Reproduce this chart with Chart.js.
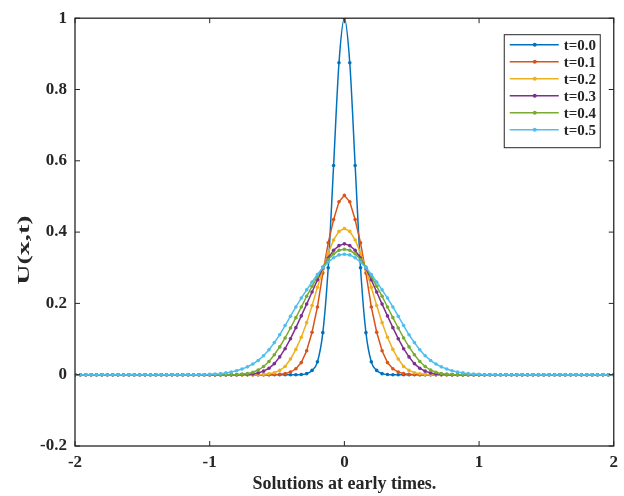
<!DOCTYPE html>
<html>
<head>
<meta charset="utf-8">
<title>Solutions at early times</title>
<script src="https://cdn.jsdelivr.net/npm/chart.js@4.4.1/dist/chart.umd.min.js"></script>
<style>
    html, body { margin: 0; padding: 0; background: #fff; }
    #u_plot_container { position: relative; width: 624px; height: 496px; }
</style>
</head>
<body>
<div id="u_plot_container"><canvas id="u_plot"></canvas></div>
<script>
// grid points x = -2 : 0.04 : 2
const xs = [
    -2, -1.96, -1.92, -1.88, -1.84, -1.8, -1.76, -1.72, -1.68, -1.64,
    -1.6, -1.56, -1.52, -1.48, -1.44, -1.4, -1.36, -1.32, -1.28, -1.24,
    -1.2, -1.16, -1.12, -1.08, -1.04, -1, -0.96, -0.92, -0.88, -0.84,
    -0.8, -0.76, -0.72, -0.68, -0.64, -0.6, -0.56, -0.52, -0.48, -0.44,
    -0.4, -0.36, -0.32, -0.28, -0.24, -0.2, -0.16, -0.12, -0.08, -0.04,
    0, 0.04, 0.08, 0.12, 0.16, 0.2, 0.24, 0.28, 0.32, 0.36,
    0.4, 0.44, 0.48, 0.52, 0.56, 0.6, 0.64, 0.68, 0.72, 0.76,
    0.8, 0.84, 0.88, 0.92, 0.96, 1, 1.04, 1.08, 1.12, 1.16,
    1.2, 1.24, 1.28, 1.32, 1.36, 1.4, 1.44, 1.48, 1.52, 1.56,
    1.6, 1.64, 1.68, 1.72, 1.76, 1.8, 1.84, 1.88, 1.92, 1.96,
    2
];

// U(x,t)
const u_t00 = [
    0, 0, 0, 0, 0, 0, 0, 0, 0, 0,
    0, 0, 0, 0, 0, 0, 0, 0, 0, 0,
    0, 0, 0, 0, 0, 0, 0, 0, 0, 0,
    0, 0, 0, 0, 0, 0, 0, 0, 0, 0,
    0, 0, 0.0005, 0.003, 0.012, 0.036, 0.118, 0.30, 0.587, 0.875,
    1, 0.875, 0.587, 0.30, 0.118, 0.036, 0.012, 0.003, 0.0005, 0,
    0, 0, 0, 0, 0, 0, 0, 0, 0, 0,
    0, 0, 0, 0, 0, 0, 0, 0, 0, 0,
    0, 0, 0, 0, 0, 0, 0, 0, 0, 0,
    0, 0, 0, 0, 0, 0, 0, 0, 0, 0,
    0
];
const u_t01 = [
    0, 0, 0, 0, 0, 0, 0, 0, 0, 0,
    0, 0, 0, 0, 0, 0, 0, 0, 0, 0,
    0, 0, 0, 0, 0, 0, 0, 0, 0, 0,
    0, 0, 0, 0, 0, 0, 0, 0.0004, 0.001, 0.003,
    0.0075, 0.0166, 0.034, 0.067, 0.119, 0.19, 0.285, 0.37, 0.435, 0.485,
    0.503, 0.485, 0.435, 0.37, 0.285, 0.19, 0.119, 0.067, 0.034, 0.0166,
    0.0075, 0.003, 0.001, 0.0004, 0, 0, 0, 0, 0, 0,
    0, 0, 0, 0, 0, 0, 0, 0, 0, 0,
    0, 0, 0, 0, 0, 0, 0, 0, 0, 0,
    0, 0, 0, 0, 0, 0, 0, 0, 0, 0,
    0
];
const u_t02 = [
    0, 0, 0, 0, 0, 0, 0, 0, 0, 0,
    0, 0, 0, 0, 0, 0, 0, 0, 0, 0,
    0, 0, 0, 0, 0, 0, 0, 0, 0, 0,
    0, 0, 0, 0, 0.0004, 0.001, 0.0025, 0.0056, 0.012, 0.023,
    0.044, 0.071, 0.105, 0.146, 0.194, 0.245, 0.295, 0.341, 0.378, 0.402,
    0.41, 0.402, 0.378, 0.341, 0.295, 0.245, 0.194, 0.146, 0.105, 0.071,
    0.044, 0.023, 0.012, 0.0056, 0.0025, 0.001, 0.0004, 0, 0, 0,
    0, 0, 0, 0, 0, 0, 0, 0, 0, 0,
    0, 0, 0, 0, 0, 0, 0, 0, 0, 0,
    0, 0, 0, 0, 0, 0, 0, 0, 0, 0,
    0
];
const u_t03 = [
    0, 0, 0, 0, 0, 0, 0, 0, 0, 0,
    0, 0, 0, 0, 0, 0, 0, 0, 0, 0,
    0, 0, 0, 0, 0, 0, 0, 0, 0, 0,
    0, 0.0004, 0.001, 0.0022, 0.005, 0.010, 0.018, 0.031, 0.050, 0.073,
    0.101, 0.132, 0.165, 0.198, 0.232, 0.266, 0.299, 0.327, 0.349, 0.362,
    0.367, 0.362, 0.349, 0.327, 0.299, 0.266, 0.232, 0.198, 0.165, 0.132,
    0.101, 0.073, 0.050, 0.031, 0.018, 0.010, 0.005, 0.0022, 0.001, 0.0004,
    0, 0, 0, 0, 0, 0, 0, 0, 0, 0,
    0, 0, 0, 0, 0, 0, 0, 0, 0, 0,
    0, 0, 0, 0, 0, 0, 0, 0, 0, 0,
    0
];
const u_t04 = [
    0, 0, 0, 0, 0, 0, 0, 0, 0, 0,
    0, 0, 0, 0, 0, 0, 0, 0, 0, 0,
    0, 0, 0, 0, 0, 0, 0, 0, 0, 0.0002,
    0.0006, 0.0015, 0.003, 0.007, 0.013, 0.023, 0.037, 0.056, 0.078, 0.103,
    0.131, 0.160, 0.190, 0.220, 0.248, 0.276, 0.302, 0.323, 0.339, 0.349,
    0.352, 0.349, 0.339, 0.323, 0.302, 0.276, 0.248, 0.220, 0.190, 0.160,
    0.131, 0.103, 0.078, 0.056, 0.037, 0.023, 0.013, 0.007, 0.003, 0.0015,
    0.0006, 0.0002, 0, 0, 0, 0, 0, 0, 0, 0,
    0, 0, 0, 0, 0, 0, 0, 0, 0, 0,
    0, 0, 0, 0, 0, 0, 0, 0, 0, 0,
    0
];
const u_t05 = [
    0, 0, 0, 0, 0, 0, 0, 0, 0, 0,
    0, 0, 0, 0, 0, 0, 0, 0, 0, 0,
    0, 0, 0, 0, 0.0005, 0.001, 0.002, 0.003, 0.005, 0.0075,
    0.011, 0.016, 0.022, 0.030, 0.040, 0.053, 0.07, 0.09, 0.112, 0.138,
    0.164, 0.19, 0.215, 0.238, 0.26, 0.281, 0.300, 0.316, 0.328, 0.336,
    0.338, 0.336, 0.328, 0.316, 0.300, 0.281, 0.26, 0.238, 0.215, 0.19,
    0.164, 0.138, 0.112, 0.09, 0.07, 0.053, 0.040, 0.030, 0.022, 0.016,
    0.011, 0.0075, 0.005, 0.003, 0.002, 0.001, 0.0005, 0, 0, 0,
    0, 0, 0, 0, 0, 0, 0, 0, 0, 0,
    0, 0, 0, 0, 0, 0, 0, 0, 0, 0,
    0
];

const seriesLabels = ["t=0.0", "t=0.1", "t=0.2", "t=0.3", "t=0.4", "t=0.5"];
const seriesValues = [u_t00, u_t01, u_t02, u_t03, u_t04, u_t05];
// matlab default line colors
const seriesColors = ["#0072BD", "#D95319", "#EDB120", "#7E2F8E", "#77AC30", "#4DBEEE"];

const xTickValues = [-2, -1, 0, 1, 2];
const yTickLabels = ["-0.2", "0", "0.2", "0.4", "0.6", "0.8", "1"];
const xTitle = "Solutions at early times.";
const yTitle = "U(x,t)";

window.font_family = "'Liberation Serif', 'Times New Roman', serif";
window.text_color = "#262626";

function createData() {
    const datasets = [];
    for (let i = 0; i < seriesValues.length; i++) {
        const pts = [];
        for (let j = 0; j < xs.length; j++) pts.push({ x: xs[j], y: seriesValues[i][j] });
        datasets.push({
            label: seriesLabels[i],
            data: pts,
            borderColor: seriesColors[i],
            backgroundColor: seriesColors[i],
            borderWidth: 1.5,
            pointRadius: 1.8,
            pointBorderWidth: 0,
            pointBackgroundColor: seriesColors[i],
            showLine: true,
            tension: 0,
            // the t=0 profile is smooth and narrow, the grid is too coarse for straight pieces
            cubicInterpolationMode: i == 0 ? "monotone" : "default",
            order: seriesValues.length - i, // later times drawn on top, like matlab
        });
    }
    return { datasets: datasets };
}

// box, inward ticks, legend and the ylabel, drawn the matlab way
const matlabAxes = {
    id: "matlabAxes",
    afterDraw(chart) {
        const ctx = chart.ctx;
        const area = chart.chartArea;
        const sx = chart.scales.x, sy = chart.scales.y;
        const tick = 5;

        ctx.save();
        ctx.strokeStyle = window.text_color;
        ctx.lineWidth = 1.3;
        ctx.strokeRect(area.left, area.top, area.right - area.left, area.bottom - area.top);

        ctx.beginPath();
        sx.ticks.forEach(t => {
            const px = sx.getPixelForValue(t.value);
            ctx.moveTo(px, area.bottom); ctx.lineTo(px, area.bottom - tick);
            ctx.moveTo(px, area.top); ctx.lineTo(px, area.top + tick);
        });
        sy.ticks.forEach(t => {
            const py = sy.getPixelForValue(t.value);
            ctx.moveTo(area.left, py); ctx.lineTo(area.left + tick, py);
            ctx.moveTo(area.right, py); ctx.lineTo(area.right - tick, py);
        });
        ctx.lineWidth = 1;
        ctx.stroke();

        // legend box in the upper right corner
        const boxW = 96, boxH = 113;
        const bx = area.right - 14 - boxW, by = area.top + 16;
        ctx.fillStyle = "#fff";
        ctx.fillRect(bx, by, boxW, boxH);
        ctx.strokeStyle = window.text_color;
        ctx.lineWidth = 1;
        ctx.strokeRect(bx + 0.5, by + 0.5, boxW, boxH);

        ctx.font = "bold 15px " + window.font_family;
        ctx.textBaseline = "middle";
        ctx.textAlign = "left";
        chart.data.datasets.forEach((ds, i) => {
            const ly = by + 10.5 + i * 17;
            ctx.strokeStyle = ds.borderColor;
            ctx.lineWidth = 1.5;
            ctx.beginPath();
            ctx.moveTo(bx + 6, ly); ctx.lineTo(bx + 55, ly);
            ctx.stroke();
            ctx.fillStyle = ds.borderColor;
            ctx.beginPath();
            ctx.arc(bx + 31, ly, 2, 0, Math.PI * 2);
            ctx.fill();
            ctx.fillStyle = window.text_color;
            ctx.fillText(ds.label, bx + 60, ly + 1);
        });

        // ylabel is stretched along the axis in the original figure
        ctx.translate(25, (area.top + area.bottom) / 2 + 18);
        ctx.rotate(-Math.PI / 2);
        ctx.scale(1.65, 1);
        ctx.font = "bold 17px " + window.font_family;
        ctx.textAlign = "center";
        ctx.fillStyle = window.text_color;
        ctx.fillText(yTitle, 0, 0);
        ctx.restore();
    }
};

function createUPlot() {
    const tickFont = { family: window.font_family, size: 17, weight: "bold" };
    const config = {
        type: "scatter",
        data: createData(),
        options: {
            responsive: true,
            maintainAspectRatio: false,
            animation: false,
            layout: { padding: { top: 17, right: 7, bottom: 0, left: 0 } },
            plugins: {
                legend: { display: false },
                tooltip: { enabled: false },
            },
            scales: {
                x: {
                    type: "linear",
                    min: xTickValues[0],
                    max: xTickValues[xTickValues.length - 1],
                    afterBuildTicks: (scale) => { scale.ticks = xTickValues.map(v => ({ value: v })); },
                    ticks: { font: tickFont, color: window.text_color, padding: 6 },
                    grid: { display: false, drawTicks: false },
                    border: { display: false },
                    title: {
                        display: true,
                        text: xTitle,
                        font: { family: window.font_family, size: 18, weight: "bold" },
                        color: window.text_color,
                        padding: { top: 0, bottom: 1 },
                    },
                    afterFit: (scale) => { scale.height = 50; },
                },
                y: {
                    min: Number(yTickLabels[0]),
                    max: Number(yTickLabels[yTickLabels.length - 1]),
                    afterBuildTicks: (scale) => { scale.ticks = yTickLabels.map(v => ({ value: Number(v) })); },
                    ticks: {
                        font: tickFont,
                        color: window.text_color,
                        padding: 8,
                        callback: (value, index) => yTickLabels[index],
                    },
                    grid: { display: false, drawTicks: false },
                    border: { display: false },
                    afterFit: (scale) => { scale.width = 75; },
                },
            },
        },
        plugins: [matlabAxes],
    };
    const ctx = document.getElementById("u_plot");
    window.u_chart = new Chart(ctx, config);
}

createUPlot();
</script>
</body>
</html>
